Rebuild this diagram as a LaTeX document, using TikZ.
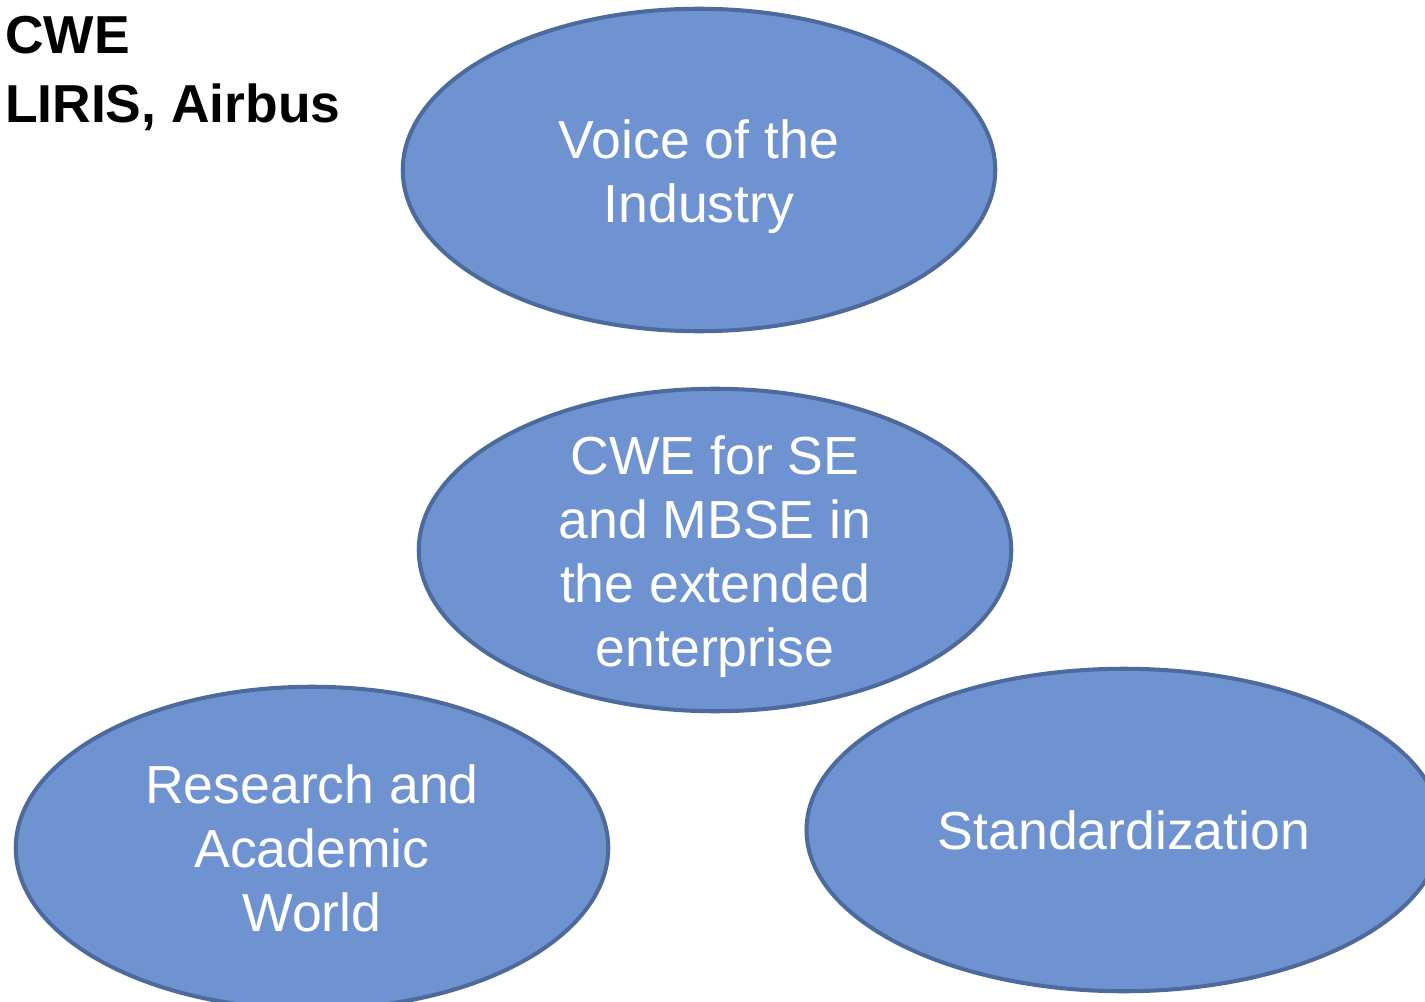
\documentclass[tikz,border=0pt]{standalone}
\usepackage{fontspec}
\setmainfont{Liberation Sans}
\usetikzlibrary{shapes.geometric}
\definecolor{bubblefill}{HTML}{6F93D1}
\definecolor{bubbleline}{HTML}{4D6A9D}
\newcommand{\topstrut}{\rule{0pt}{1.06cm}}

\begin{document}
\begin{tikzpicture}[every node/.style={inner sep=0pt,outer sep=0pt},
        bubble/.style={ellipse,draw=bubbleline,fill=bubblefill,line width=2.3pt,
          minimum width=11.85cm,minimum height=6.45cm,text=white,align=center,
          font=\fontsize{30.5}{36.4}\selectfont},
        heading/.style={anchor=north west,align=left,font=\fontsize{30.4}{39.5}\selectfont\bfseries}]
   \useasboundingbox (0,0) rectangle (28.5,-20.04);
   \node (T) [heading] at (0.1,-0.32) {CWE\\LIRIS, Airbus};
   \node (V) [bubble] at (13.98,-3.40) {\topstrut Voice of the\\Industry};
   \node (C) [bubble,inner ysep=-0.4cm] at (14.30,-11.00) {\topstrut CWE for SE\\and MBSE in\\the extended\\enterprise};
   \node (R) [bubble] at (6.24,-16.96) {Research and\\Academic\\World};
   \node (S) [bubble,minimum width=12.7cm] at (22.48,-16.60) {Standardization};

\end{tikzpicture}
\end{document}
